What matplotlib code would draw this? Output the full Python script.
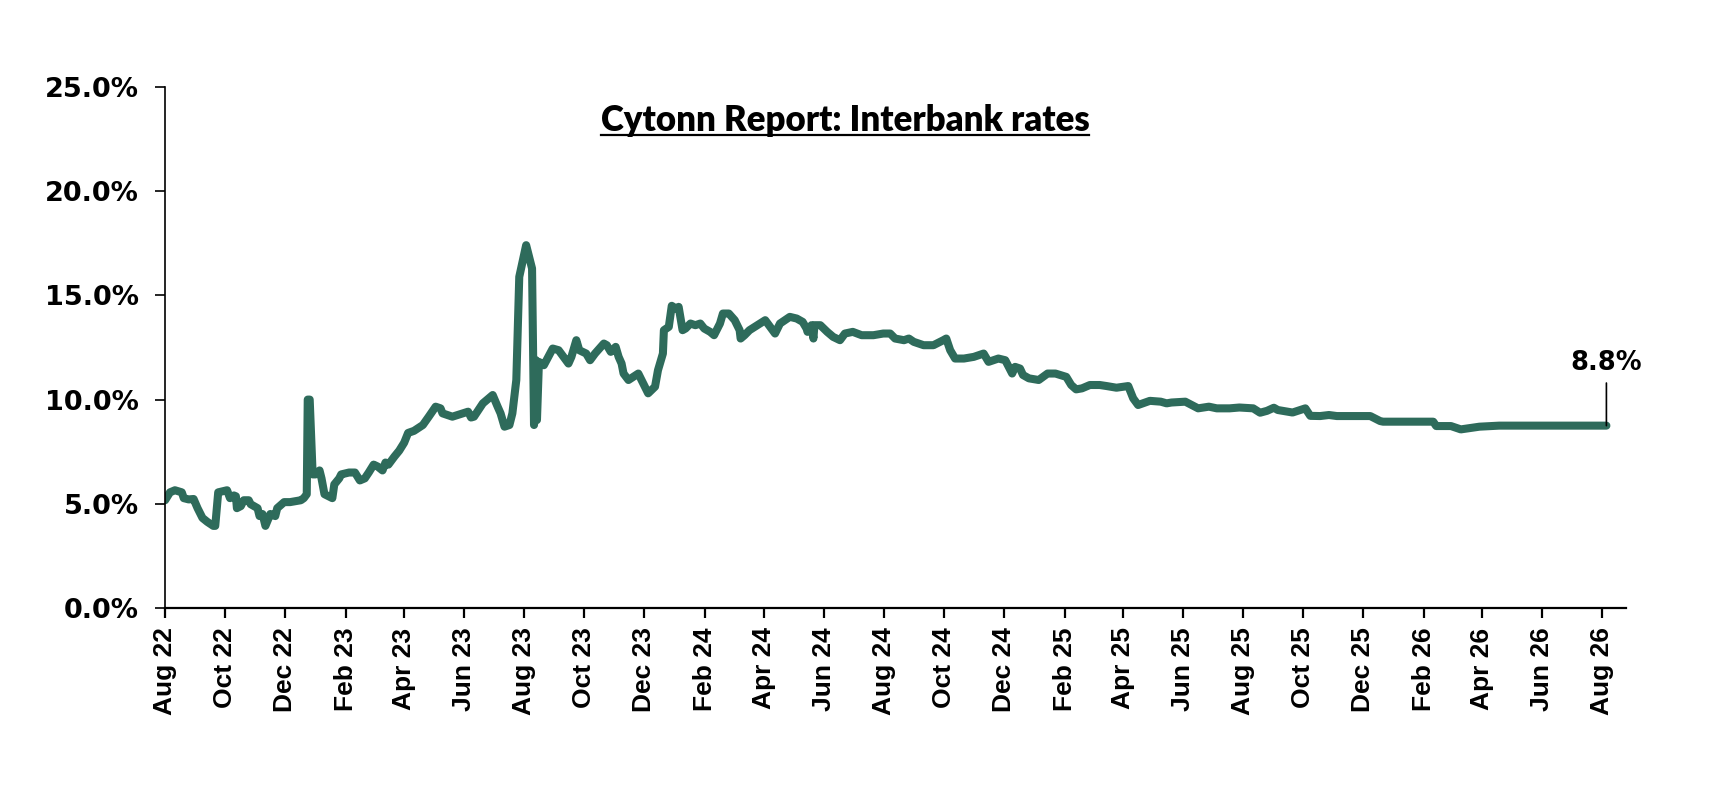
import pandas as pd
import matplotlib
matplotlib.use('Agg')
import matplotlib.pyplot as plt
import matplotlib.dates as mdates
from matplotlib.lines import Line2D

# interbank rate readings (%)
dates = ['2022-08-01', '2022-08-06', '2022-08-11', '2022-08-18', '2022-08-20', '2022-08-25',
         '2022-08-30', '2022-09-03', '2022-09-08', '2022-09-13', '2022-09-19', '2022-09-21',
         '2022-09-24', '2022-10-03', '2022-10-06', '2022-10-10', '2022-10-12', '2022-10-13',
         '2022-10-17', '2022-10-20', '2022-10-25', '2022-10-27', '2022-11-03', '2022-11-05',
         '2022-11-08', '2022-11-11', '2022-11-16', '2022-11-21', '2022-11-23', '2022-11-30',
         '2022-12-06', '2022-12-17', '2022-12-20', '2022-12-23', '2022-12-24', '2022-12-26',
         '2022-12-29', '2023-01-01', '2023-01-05', '2023-01-07', '2023-01-10', '2023-01-18',
         '2023-01-20', '2023-01-25', '2023-01-27', '2023-02-04', '2023-02-10', '2023-02-15',
         '2023-02-20', '2023-02-24', '2023-03-01', '2023-03-05', '2023-03-10', '2023-03-13',
         '2023-03-16', '2023-03-22', '2023-03-27', '2023-04-01', '2023-04-05', '2023-04-11',
         '2023-04-20', '2023-04-26', '2023-05-03', '2023-05-08', '2023-05-10', '2023-05-20',
         '2023-06-05', '2023-06-08', '2023-06-11', '2023-06-20', '2023-06-30', '2023-07-05',
         '2023-07-08', '2023-07-12', '2023-07-17', '2023-07-20', '2023-07-24', '2023-07-27',
         '2023-08-03', '2023-08-09', '2023-08-11', '2023-08-13', '2023-08-14', '2023-08-16',
         '2023-08-21', '2023-08-30', '2023-09-05', '2023-09-15', '2023-09-18', '2023-09-23',
         '2023-09-26', '2023-10-03', '2023-10-07', '2023-10-12', '2023-10-21', '2023-10-24',
         '2023-10-28', '2023-11-02', '2023-11-05', '2023-11-08', '2023-11-10', '2023-11-15',
         '2023-11-25', '2023-11-30', '2023-12-05', '2023-12-12', '2023-12-15', '2023-12-20',
         '2023-12-21', '2023-12-26', '2023-12-29', '2024-01-02', '2024-01-05', '2024-01-09',
         '2024-01-12', '2024-01-17', '2024-01-22', '2024-01-27', '2024-01-31', '2024-02-06',
         '2024-02-10', '2024-02-16', '2024-02-19', '2024-02-25', '2024-03-02', '2024-03-07',
         '2024-03-08', '2024-03-12', '2024-03-17', '2024-04-02', '2024-04-07', '2024-04-12',
         '2024-04-17', '2024-04-27', '2024-05-04', '2024-05-10', '2024-05-14', '2024-05-15',
         '2024-05-19', '2024-05-21', '2024-05-22', '2024-05-28', '2024-06-04', '2024-06-10',
         '2024-06-17', '2024-06-22', '2024-06-30', '2024-07-09', '2024-07-21', '2024-07-31',
         '2024-08-07', '2024-08-12', '2024-08-21', '2024-08-26', '2024-08-31', '2024-09-10',
         '2024-09-20', '2024-09-30', '2024-10-03', '2024-10-07', '2024-10-12', '2024-10-21',
         '2024-10-31', '2024-11-10', '2024-11-15', '2024-11-25', '2024-12-02', '2024-12-09',
         '2024-12-12', '2024-12-17', '2024-12-20', '2024-12-26', '2025-01-05', '2025-01-14',
         '2025-01-22', '2025-02-02', '2025-02-07', '2025-02-12', '2025-02-18', '2025-02-26',
         '2025-03-08', '2025-03-15', '2025-03-25', '2025-04-06', '2025-04-11', '2025-04-16',
         '2025-04-28', '2025-05-09', '2025-05-15', '2025-05-20', '2025-06-03', '2025-06-16',
         '2025-06-27', '2025-07-05', '2025-07-18', '2025-07-28', '2025-08-11', '2025-08-18',
         '2025-08-25', '2025-09-01', '2025-09-05', '2025-09-20', '2025-10-03', '2025-10-08',
         '2025-10-18', '2025-10-27', '2025-11-04', '2025-12-08', '2025-12-18', '2025-12-21',
         '2026-02-10', '2026-02-13', '2026-02-28', '2026-03-10', '2026-03-29', '2026-04-18',
         '2026-08-05']
rates = [5.17, 5.55, 5.65, 5.55, 5.27, 5.21,
         5.23, 4.79, 4.32, 4.13, 3.94, 3.94,
         5.55, 5.65, 5.27, 5.40, 5.36, 4.79,
         4.89, 5.17, 5.17, 4.98, 4.79, 4.41,
         4.51, 3.94, 4.51, 4.41, 4.79, 5.08,
         5.08, 5.17, 5.27, 5.46, 10.00, 10.00,
         6.41, 6.41, 6.60, 6.22, 5.46, 5.27,
         5.93, 6.22, 6.41, 6.50, 6.50, 6.12,
         6.22, 6.50, 6.88, 6.79, 6.60, 6.98,
         6.88, 7.26, 7.55, 7.93, 8.40, 8.50,
         8.78, 9.18, 9.66, 9.58, 9.34, 9.18,
         9.42, 9.14, 9.18, 9.82, 10.22, 9.66,
         9.34, 8.70, 8.78, 9.34, 10.94, 15.89,
         17.41, 16.29, 8.78, 11.89, 9.02, 11.81,
         11.65, 12.45, 12.37, 11.73, 12.05, 12.85,
         12.37, 12.21, 11.89, 12.21, 12.69, 12.61,
         12.29, 12.53, 12.05, 11.73, 11.25, 10.94,
         11.25, 10.78, 10.30, 10.62, 11.41, 12.21,
         13.33, 13.49, 14.50, 14.37, 14.45, 13.33,
         13.41, 13.65, 13.57, 13.65, 13.41, 13.25,
         13.09, 13.65, 14.13, 14.13, 13.81, 13.33,
         12.93, 13.09, 13.33, 13.81, 13.49, 13.17,
         13.65, 13.97, 13.89, 13.73, 13.41, 13.25,
         13.57, 12.93, 13.57, 13.57, 13.25, 13.01,
         12.85, 13.17, 13.25, 13.09, 13.09, 13.17,
         13.17, 12.93, 12.85, 12.93, 12.77, 12.61,
         12.61, 12.85, 12.93, 12.37, 11.97, 11.97,
         12.05, 12.21, 11.81, 11.97, 11.89, 11.25,
         11.57, 11.49, 11.18, 11.02, 10.94, 11.25,
         11.25, 11.09, 10.70, 10.49, 10.54, 10.70,
         10.70, 10.65, 10.57, 10.65, 10.06, 9.74,
         9.94, 9.90, 9.82, 9.86, 9.90, 9.58,
         9.66, 9.58, 9.58, 9.62, 9.58, 9.37,
         9.46, 9.61, 9.50, 9.38, 9.58, 9.22,
         9.21, 9.26, 9.21, 9.21, 8.97, 8.94,
         8.94, 8.73, 8.73, 8.57, 8.70, 8.75,
         8.75]
last_label = '8.8%'
title = 'Cytonn Report: Interbank rates'

df = pd.DataFrame({'Date': pd.to_datetime(dates), 'Rate': rates})

fig = plt.figure(figsize=(17.16, 7.96), dpi=100)
ax = fig.add_axes([0.0962, 0.2362, 0.8514, 0.6545])

ax.plot(df['Date'], df['Rate'], color='#2E6B5B', lw=5.8, solid_joinstyle='round',
        solid_capstyle='round')

ax.set_ylim(0, 25)
ax.set_yticks([0, 5, 10, 15, 20, 25])
ax.yaxis.set_major_formatter(plt.FuncFormatter(lambda v, p: '{:.1f}%'.format(v)))
ax.set_xlim(pd.Timestamp('2022-08-01'), pd.Timestamp('2026-08-25'))
ax.xaxis.set_major_locator(mdates.MonthLocator(bymonth=[2, 4, 6, 8, 10, 12]))
ax.xaxis.set_major_formatter(mdates.DateFormatter('%b %y'))

for s in ['top', 'right']:
    ax.spines[s].set_visible(False)
ax.spines['left'].set_linewidth(1.2)
ax.spines['bottom'].set_linewidth(1.6)
ax.tick_params(axis='y', length=7, width=1.2, pad=12)
ax.tick_params(axis='x', length=7, width=1.6, pad=7)

for lab in ax.get_yticklabels():
    lab.set_fontfamily('DejaVu Sans')
    lab.set_fontweight('bold')
    lab.set_fontsize(19.5)
for lab in ax.get_xticklabels():
    lab.set_fontfamily('Liberation Sans')
    lab.set_fontweight('bold')
    lab.set_fontsize(19)
    lab.set_rotation(90)

ax.annotate(last_label, xy=(df['Date'].iloc[-1], df['Rate'].iloc[-1]),
            xytext=(0, 40), textcoords='offset points', ha='center', va='baseline',
            fontsize=18.5, fontweight='bold', fontfamily='DejaVu Sans',
            arrowprops=dict(arrowstyle='-', color='black', lw=1.2,
                            relpos=(0.5, 0), shrinkA=3, shrinkB=0))

t = fig.text(0.4924, 1 - 131 / 796, title, ha='center', va='baseline',
             fontsize=25, fontweight='heavy', fontfamily='Lato')

# underline the title
fig.canvas.draw()
bb = t.get_window_extent().transformed(fig.transFigure.inverted())
uy = bb.y0 + 0.002
fig.add_artist(Line2D([bb.x0, bb.x1], [uy, uy], color='black', lw=1.6,
                      transform=fig.transFigure))

fig.savefig('out.png', dpi=100)
